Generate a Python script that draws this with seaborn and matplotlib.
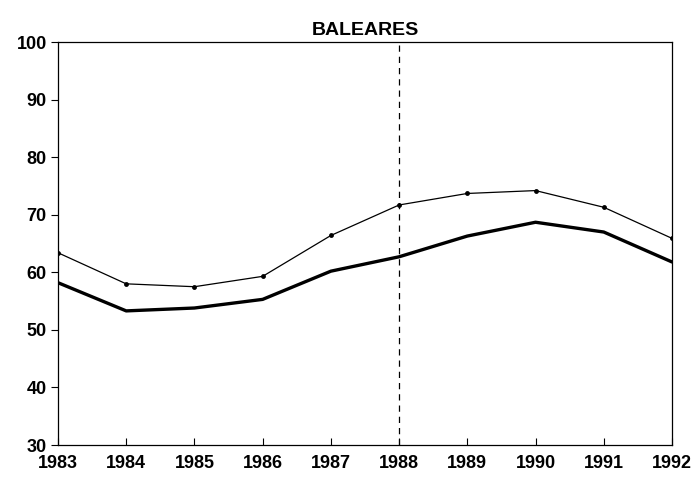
import matplotlib
matplotlib.use("Agg")
import matplotlib.pyplot as plt
import pandas as pd
import seaborn as sns

YEARS = [1983, 1984, 1985, 1986, 1987, 1988, 1989, 1990, 1991, 1992]
UPPER = [63.4, 58.0, 57.5, 59.3, 66.4, 71.7, 73.7, 74.2, 71.3, 65.9]
LOWER = [58.2, 53.3, 53.8, 55.3, 60.2, 62.7, 66.3, 68.7, 67.0, 61.8]
Y_TICKS = [30, 40, 50, 60, 70, 80, 90, 100]
TITLE = "BALEARES"
MARK_YEAR = 1988

sns.set_style("white", {"xtick.bottom": True, "ytick.left": True,
                        "text.color": "black", "xtick.color": "black",
                        "ytick.color": "black", "axes.edgecolor": "black"})
plt.rcParams["font.family"] = ["Liberation Sans", "DejaVu Sans"]
plt.rcParams["font.weight"] = "bold"

df = pd.DataFrame({"year": YEARS, "upper": UPPER, "lower": LOWER})

fig = plt.figure(figsize=(6.96, 4.78), dpi=100)
ax = fig.add_axes([0.0833, 0.069, 0.8822, 0.843])

sns.lineplot(data=df, x="year", y="upper", ax=ax, color="black", linewidth=0.9,
             marker="o", markersize=3.5, markeredgewidth=0)
sns.lineplot(data=df, x="year", y="lower", ax=ax, color="black", linewidth=2.4)
ax.axvline(MARK_YEAR, color="black", linestyle=(0, (5, 4)), linewidth=0.9)

ax.set_xlim(YEARS[0], YEARS[-1])
ax.set_ylim(Y_TICKS[0], Y_TICKS[-1])
ax.set_xticks(YEARS)
ax.set_yticks(Y_TICKS)
ax.tick_params(axis="y", left=True, direction="out", length=5, width=0.8,
               labelsize=13, pad=3, colors="black")
ax.tick_params(axis="x", bottom=True, direction="in", length=5, width=0.8,
               labelsize=13, pad=7, colors="black")
for label in ax.get_xticklabels() + ax.get_yticklabels():
    label.set_fontweight("bold")
ax.set_xlabel("")
ax.set_ylabel("")
for spine in ax.spines.values():
    spine.set_color("black")
    spine.set_linewidth(0.9)
ax.set_title(TITLE, fontsize=14, fontweight="bold", pad=5, color="black")

fig.savefig("out.png", dpi=100)
